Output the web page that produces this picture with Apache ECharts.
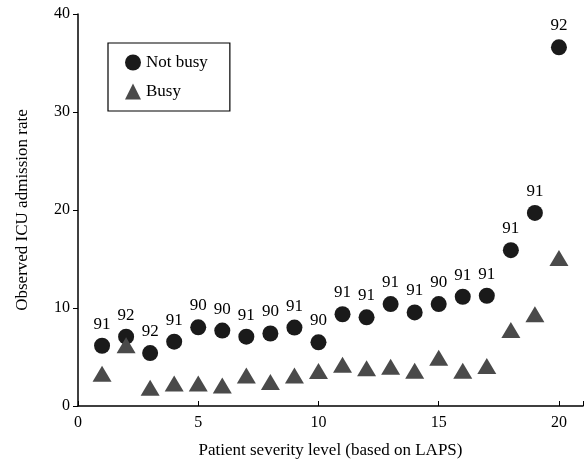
<!DOCTYPE html>
<html>
<head>
<meta charset="utf-8">
<script src="https://cdn.jsdelivr.net/npm/echarts@6/dist/echarts.min.js"></script>
<style>
  html, body { margin: 0; padding: 0; background: #fff; }
  #main { width: 586px; height: 468px; }
</style>
</head>
<body>
<div id="main"></div>
<script>
// severity levels 1..20
var levels = [1, 2, 3, 4, 5, 6, 7, 8, 9, 10, 11, 12, 13, 14, 15, 16, 17, 18, 19, 20];
var notBusy = [6.15, 7.07, 5.4, 6.56, 8.03, 7.7, 7.07, 7.4, 8.0, 6.5, 9.36, 9.05, 10.4, 9.55, 10.4, 11.15, 11.25, 15.9, 19.7, 36.6];
var busy = [3.3, 6.2, 1.87, 2.3, 2.3, 2.1, 3.1, 2.45, 3.1, 3.57, 4.2, 3.85, 4.0, 3.6, 4.93, 3.6, 4.08, 7.76, 9.36, 15.1];
// numbers printed above the circles
var pointLabels = [91, 92, 92, 91, 90, 90, 91, 90, 91, 90, 91, 91, 91, 91, 90, 91, 91, 91, 91, 92];
var xTicks = [0, 5, 10, 15, 20];
var yTicks = [0, 10, 20, 30, 40];

var font = 'Liberation Serif';
var myChart = echarts.init(document.getElementById('main'));

var option = {
    animation: false,
    textStyle: { fontFamily: font, color: '#000' },
    grid: { left: 78, right: 2, top: 14, bottom: 62 },
    legend: {
        orient: 'vertical',
        left: 108,
        top: 43,
        padding: [11, 22, 11, 17],
        itemGap: 12,
        itemWidth: 16,
        itemHeight: 16,
        borderColor: '#000',
        borderWidth: 1.2,
        textStyle: { fontFamily: font, fontSize: 17, color: '#000' },
        data: [
            { name: 'Not busy', icon: 'circle' },
            { name: 'Busy', icon: 'triangle' }
        ]
    },
    xAxis: {
        type: 'value',
        min: 0,
        max: 21,
        interval: 5,
        name: 'Patient severity level (based on LAPS)',
        nameLocation: 'middle',
        nameGap: 36,
        nameTextStyle: { fontFamily: font, fontSize: 17, color: '#000' },
        axisLine: { lineStyle: { color: '#000', width: 1.5 } },
        axisTick: { inside: true, length: 5, lineStyle: { color: '#000' } },
        axisLabel: {
            fontFamily: font, fontSize: 16, color: '#000', margin: 9,
            formatter: function (v) { return xTicks.indexOf(v) >= 0 ? v : ''; }
        },
        splitLine: { show: false }
    },
    yAxis: {
        type: 'value',
        min: 0,
        max: 40,
        interval: 10,
        name: 'Observed ICU admission rate',
        nameLocation: 'middle',
        nameGap: 47,
        nameTextStyle: { fontFamily: font, fontSize: 17, color: '#000' },
        axisLine: { show: true, lineStyle: { color: '#000', width: 1.5 } },
        axisTick: { show: true, length: 5, lineStyle: { color: '#000' } },
        axisLabel: {
            fontFamily: font, fontSize: 16, color: '#000', margin: 8,
            formatter: function (v) { return yTicks.indexOf(v) >= 0 ? v : ''; }
        },
        splitLine: { show: false }
    },
    series: [
        {
            name: 'Not busy',
            type: 'scatter',
            symbol: 'circle',
            symbolSize: 16,
            itemStyle: { color: '#1a1a1a', opacity: 1 },
            label: {
                show: true,
                position: 'top',
                distance: 5,
                fontFamily: font,
                fontSize: 17,
                color: '#000',
                formatter: function (p) { return pointLabels[p.dataIndex]; }
            },
            data: levels.map(function (x, i) { return [x, notBusy[i]]; })
        },
        {
            name: 'Busy',
            type: 'scatter',
            symbol: 'triangle',
            symbolSize: [19, 16],
            itemStyle: { color: '#4a4a4a', opacity: 1 },
            data: levels.map(function (x, i) { return [x, busy[i]]; })
        }
    ]
};
myChart.setOption(option);
</script>
</body>
</html>
